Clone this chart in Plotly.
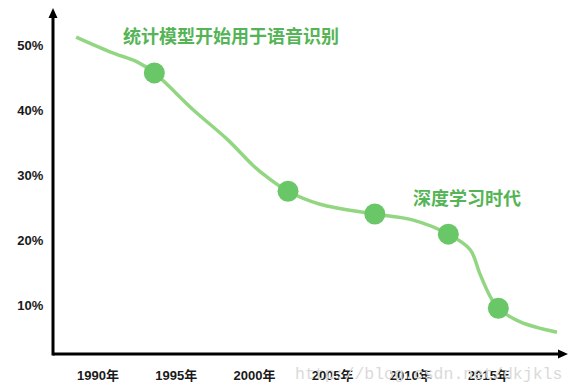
import plotly.graph_objects as go

# Word error rate trend
curve_years = [1988.6, 1990.8, 1992.5, 1993.6, 1996.1, 1998.3, 1999.9, 2000.8,
               2002.15, 2004.2, 2007.7, 2010.1, 2012.4, 2013.8, 2014.4, 2015.1,
               2015.6, 2017.0, 2019.35]
curve_values = [51.2, 48.9, 47.4, 45.7, 40.0, 35.4, 31.5, 29.7,
                27.5, 25.5, 24.0, 23.1, 20.9, 18.5, 14.9, 11.2,
                9.5, 7.4, 5.8]

marker_years = [1993.6, 2002.15, 2007.7, 2012.4, 2015.6]
marker_values = [45.7, 27.5, 24.0, 20.9, 9.5]

x_tick_vals = [1990, 1995, 2000, 2005, 2010, 2015]
x_tick_text = ["1990年", "1995年", "2000年", "2005年", "2010年", "2015年"]
y_tick_vals = [10, 20, 30, 40, 50]
y_tick_text = ["10%", "20%", "30%", "40%", "50%"]

note_texts = ["统计模型开始用于语音识别", "深度学习时代"]
note_years = [1998.5, 2013.6]
note_values = [51.5, 26.6]

watermark = "http://blog.csdn.net/dkjkls"

GREEN_TEXT = "#55b455"
LINE_COLOR = "#93d682"
MARKER_COLOR = "#6ac767"
FONT = "Liberation Sans, Arial, Noto Sans CJK SC"

# the page body has an 8px default margin; size the figure to fit the window
OFF = 8
W, H = 576 - OFF, 388 - OFF
L, R, T, B = 53 - OFF, 9, 0, 34
pw, ph = W - L - R, H - T - B


def px(xp):  # page pixel -> paper x
    return (xp - 53) / pw


def py(yp):  # page pixel -> paper y
    return (354 - yp) / ph


fig = go.Figure()
fig.add_trace(go.Scatter(
    x=curve_years, y=curve_values, mode="lines",
    line=dict(color=LINE_COLOR, width=3.5, shape="spline", smoothing=1.0),
    hoverinfo="skip", showlegend=False))
fig.add_trace(go.Scatter(
    x=marker_years, y=marker_values, mode="markers",
    marker=dict(color=MARKER_COLOR, size=21, line=dict(width=0)),
    showlegend=False))

annotations = []
for t, xv, yv in zip(note_texts, note_years, note_values):
    annotations.append(dict(
        x=xv, y=yv, xref="x", yref="y", text="<b>" + t + "</b>", showarrow=False,
        font=dict(family="Noto Sans CJK SC", size=18, color=GREEN_TEXT)))
annotations.append(dict(
    x=px(564), y=0, xref="paper", yref="paper", xanchor="right", yanchor="top",
    yshift=-9, text=watermark, showarrow=False,
    font=dict(family="Liberation Mono, DejaVu Sans Mono", size=16.5, color="#dadada")))

shapes = [
    dict(type="line", xref="paper", yref="paper",
         x0=px(53), x1=px(560), y0=py(354), y1=py(354),
         line=dict(color="black", width=3)),
    dict(type="line", xref="paper", yref="paper",
         x0=px(53), x1=px(53), y0=py(355.5), y1=py(15),
         line=dict(color="black", width=3)),
    # x axis arrow head
    dict(type="path", xref="paper", yref="paper",
         path=f"M {px(558)} {py(349.5)} L {px(568)} {py(354)} L {px(558)} {py(358.5)} Z",
         fillcolor="black", line=dict(width=0)),
    # y axis arrow head
    dict(type="path", xref="paper", yref="paper",
         path=f"M {px(48.5)} {py(18)} L {px(53)} {py(8)} L {px(57.5)} {py(18)} Z",
         fillcolor="black", line=dict(width=0)),
]

fig.update_layout(
    width=W, height=H,
    margin=dict(l=L, r=R, t=T, b=B, pad=0),
    plot_bgcolor="white", paper_bgcolor="white",
    annotations=annotations, shapes=shapes,
    xaxis=dict(range=[1987.12, 2019.99], tickvals=x_tick_vals, ticktext=x_tick_text,
               showgrid=False, zeroline=False, showline=False,
               ticks="outside", ticklen=9, tickcolor="rgba(0,0,0,0)",
               tickfont=dict(family=FONT, size=13, color="#1a1a1a", weight="bold")),
    yaxis=dict(range=[2.46, 55.69], tickvals=y_tick_vals, ticktext=y_tick_text,
               showgrid=False, zeroline=False, showline=False,
               ticks="outside", ticklen=6, tickcolor="rgba(0,0,0,0)",
               tickfont=dict(family=FONT, size=13, color="#1a1a1a", weight="bold")),
)

fig.write_html("out.html")
